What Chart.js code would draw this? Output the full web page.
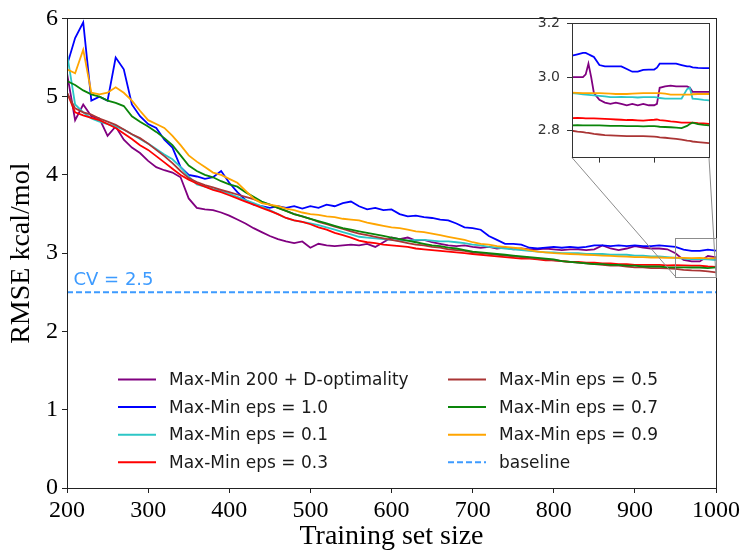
<!DOCTYPE html>
<html>
<head>
<meta charset="utf-8">
<script src="https://cdn.jsdelivr.net/npm/chart.js@4.4.1/dist/chart.umd.min.js"></script>
<style>
  html, body { margin: 0; padding: 0; background: #fff; }
  #wrap { position: relative; width: 740px; height: 552px; overflow: hidden; }
  #main { position: absolute; left: 0; top: 0; }
  #inset { position: absolute; left: 515px; top: 8px; }
</style>
</head>
<body>
<div id="wrap">
  <canvas id="main" width="740" height="552"></canvas>
  <canvas id="inset" width="200" height="165"></canvas>
</div>
<script>
"use strict";

// training set sizes
const xs = [
  200, 210, 220, 230, 240, 250, 260, 270, 280, 290,
  300, 310, 320, 330, 340, 350, 360, 370, 380, 390,
  400, 410, 420, 430, 440, 450, 460, 470, 480, 490,
  500, 510, 520, 530, 540, 550, 560, 570, 580, 590,
  600, 610, 620, 630, 640, 650, 660, 670, 680, 690,
  700, 710, 720, 730, 740, 750, 760, 770, 780, 790,
  800, 810, 820, 830, 840, 850, 860, 870, 880, 890,
  900, 910, 920, 930, 940, 950, 960, 970, 980, 990,
  1000
];

// RMSE (kcal/mol) per selection strategy
const dOpt = [
  5.30, 4.70, 4.90, 4.75, 4.72, 4.50, 4.62, 4.45, 4.35, 4.28,
  4.18, 4.10, 4.06, 4.03, 3.97, 3.70, 3.58, 3.56, 3.55, 3.52,
  3.48, 3.43, 3.38, 3.32, 3.27, 3.22, 3.18, 3.15, 3.13, 3.15,
  3.07, 3.12, 3.10, 3.09, 3.10, 3.11, 3.10, 3.12, 3.08, 3.14,
  3.20, 3.18, 3.20, 3.16, 3.17, 3.14, 3.12, 3.10, 3.09, 3.10,
  3.08, 3.07, 3.08, 3.06, 3.07, 3.05, 3.06, 3.05, 3.05, 3.06,
  3.05, 3.04, 3.05, 3.05, 3.04, 3.05, 3.10, 3.06, 3.04, 3.06,
  3.09, 3.07, 3.06, 3.06, 3.05, 3.00, 2.915, 2.895, 2.895, 2.965,
  2.945
];
const eps10 = [
  5.40, 5.75, 5.95, 4.95, 5.00, 4.95, 5.50, 5.35, 4.90, 4.75,
  4.65, 4.60, 4.45, 4.35, 4.10, 4.00, 3.98, 3.95, 3.97, 4.05,
  3.90, 3.78, 3.68, 3.62, 3.60, 3.58, 3.60, 3.58, 3.60, 3.57,
  3.60, 3.58, 3.62, 3.60, 3.64, 3.66, 3.60, 3.56, 3.58, 3.55,
  3.56, 3.50, 3.47, 3.48, 3.46, 3.45, 3.43, 3.42, 3.38, 3.33,
  3.32, 3.30, 3.22, 3.17, 3.12, 3.12, 3.11, 3.07, 3.06, 3.07,
  3.08, 3.07, 3.08, 3.07, 3.08, 3.10, 3.10, 3.09, 3.10, 3.09,
  3.10, 3.09, 3.09, 3.10, 3.09, 3.08, 3.045, 3.03, 3.03, 3.045,
  3.033
];
const eps01 = [
  5.55, 4.90, 4.80, 4.72, 4.68, 4.65, 4.62, 4.58, 4.52, 4.46,
  4.40, 4.33, 4.26, 4.20, 4.10, 3.98, 3.88, 3.85, 3.82, 3.80,
  3.76, 3.72, 3.68, 3.64, 3.60, 3.55, 3.50, 3.45, 3.42, 3.40,
  3.38, 3.36, 3.33, 3.30, 3.27, 3.24, 3.21, 3.20, 3.19, 3.18,
  3.17, 3.16, 3.16, 3.17, 3.17, 3.16, 3.15, 3.15, 3.14, 3.13,
  3.11, 3.10, 3.08, 3.07, 3.06, 3.05, 3.04, 3.03, 3.02, 3.01,
  3.01, 3.00, 3.00, 3.00, 2.99, 2.99, 2.99, 2.98, 2.98, 2.98,
  2.97, 2.97, 2.96, 2.96, 2.95, 2.94, 2.93, 2.925, 2.925, 2.92,
  2.913
];
const eps03 = [
  5.05, 4.80, 4.76, 4.73, 4.70, 4.65, 4.60, 4.53, 4.46, 4.38,
  4.32, 4.24, 4.16, 4.08, 4.00, 3.94, 3.89, 3.85, 3.81, 3.78,
  3.74, 3.70, 3.66, 3.62, 3.58, 3.54, 3.50, 3.45, 3.42, 3.40,
  3.37, 3.33, 3.30, 3.26, 3.23, 3.20, 3.16, 3.14, 3.13, 3.11,
  3.10, 3.09, 3.08, 3.06, 3.05, 3.04, 3.03, 3.02, 3.01, 3.00,
  2.99, 2.98, 2.97, 2.96, 2.95, 2.94, 2.93, 2.93, 2.92, 2.91,
  2.91, 2.90, 2.89, 2.89, 2.88, 2.88, 2.87, 2.87, 2.86, 2.86,
  2.85, 2.85, 2.85, 2.85, 2.845, 2.847, 2.844, 2.84, 2.84, 2.83,
  2.826
];
const eps05 = [
  5.05, 4.85, 4.80, 4.77, 4.72, 4.68, 4.64, 4.58, 4.52, 4.47,
  4.40, 4.32, 4.24, 4.15, 4.05, 3.96, 3.91, 3.87, 3.84, 3.81,
  3.78, 3.75, 3.72, 3.69, 3.65, 3.62, 3.58, 3.54, 3.50, 3.47,
  3.44, 3.40, 3.37, 3.34, 3.31, 3.28, 3.25, 3.23, 3.21, 3.19,
  3.17, 3.15, 3.13, 3.11, 3.10, 3.08, 3.07, 3.05, 3.04, 3.03,
  3.01, 3.00, 2.99, 2.98, 2.97, 2.96, 2.95, 2.94, 2.93, 2.92,
  2.91, 2.90, 2.89, 2.88, 2.87, 2.86, 2.85, 2.84, 2.84, 2.83,
  2.82, 2.82, 2.81, 2.81, 2.805, 2.80, 2.786, 2.78, 2.778, 2.768,
  2.754
];
const eps07 = [
  5.20, 5.15, 5.08, 5.03, 5.00, 4.95, 4.92, 4.88, 4.75, 4.68,
  4.62, 4.55, 4.47, 4.38, 4.25, 4.12, 4.05, 4.00, 3.97, 3.92,
  3.88, 3.85, 3.78, 3.72, 3.66, 3.62, 3.58, 3.54, 3.50, 3.47,
  3.44, 3.41, 3.38, 3.35, 3.32, 3.30, 3.28, 3.26, 3.24, 3.22,
  3.20, 3.18, 3.16, 3.14, 3.12, 3.10, 3.09, 3.07, 3.06, 3.04,
  3.02, 3.01, 3.00, 2.99, 2.98, 2.97, 2.96, 2.95, 2.94, 2.93,
  2.92, 2.90, 2.89, 2.88, 2.87, 2.86, 2.86, 2.85, 2.85, 2.84,
  2.84, 2.83, 2.83, 2.83, 2.82, 2.82, 2.82, 2.817, 2.817, 2.81,
  2.82
];
const eps09 = [
  5.35, 5.30, 5.60, 5.05, 5.03, 5.05, 5.12, 5.05, 4.95, 4.82,
  4.70, 4.65, 4.60, 4.50, 4.38, 4.25, 4.17, 4.10, 4.03, 4.00,
  3.95, 3.90, 3.80, 3.70, 3.64, 3.62, 3.60, 3.57, 3.55, 3.52,
  3.50, 3.49, 3.47, 3.46, 3.44, 3.43, 3.42, 3.39, 3.37, 3.35,
  3.33, 3.32, 3.30, 3.28, 3.27, 3.25, 3.23, 3.21, 3.19, 3.17,
  3.14, 3.12, 3.11, 3.09, 3.08, 3.07, 3.06, 3.04, 3.02, 3.01,
  3.00, 2.995, 2.99, 2.985, 2.98, 2.975, 2.97, 2.965, 2.96, 2.955,
  2.95, 2.95, 2.945, 2.945, 2.94, 2.942, 2.94, 2.937, 2.94, 2.935,
  2.937
];
const baselineX = [200, 1000];
const baselineY = [2.5, 2.5];
const CV = 2.5;

// zoomed window at finer resolution
const insetX = [
  950, 952, 954, 955, 956, 957, 958, 960, 962, 964,
  966, 968, 970, 972, 974, 976, 978, 980, 981, 982,
  984, 986, 988, 990, 992, 993, 994, 996, 998, 1000
];
const insetDOpt = [
  3.00, 3.00, 3.00, 3.01, 3.05, 3.00, 2.94, 2.915, 2.905, 2.90,
  2.905, 2.90, 2.895, 2.90, 2.895, 2.90, 2.895, 2.895, 2.90, 2.96,
  2.965, 2.968, 2.965, 2.965, 2.965, 2.96, 2.945, 2.945, 2.945, 2.945
];
const insetEps10 = [
  3.08, 3.085, 3.09, 3.09, 3.085, 3.08, 3.075, 3.045, 3.04, 3.04,
  3.04, 3.04, 3.03, 3.02, 3.02, 3.027, 3.028, 3.028, 3.035, 3.05,
  3.05, 3.05, 3.05, 3.045, 3.04, 3.04, 3.036, 3.034, 3.033, 3.033
];
const insetEps01 = [
  2.94, 2.938, 2.936, 2.935, 2.934, 2.933, 2.932, 2.93, 2.928, 2.925,
  2.925, 2.926, 2.925, 2.925, 2.924, 2.925, 2.925, 2.925, 2.924, 2.922,
  2.92, 2.92, 2.92, 2.92, 2.955, 2.96, 2.92, 2.918, 2.915, 2.913
];
const insetEps03 = [
  2.847, 2.848, 2.847, 2.846, 2.846, 2.846, 2.846, 2.845, 2.844, 2.843,
  2.842, 2.841, 2.84, 2.84, 2.839, 2.838, 2.84, 2.841, 2.842, 2.84,
  2.838, 2.835, 2.833, 2.83, 2.83, 2.83, 2.83, 2.828, 2.827, 2.826
];
const insetEps05 = [
  2.80, 2.797, 2.795, 2.793, 2.792, 2.79, 2.788, 2.786, 2.784, 2.783,
  2.782, 2.781, 2.78, 2.78, 2.78, 2.78, 2.779, 2.778, 2.777, 2.775,
  2.774, 2.772, 2.77, 2.767, 2.763, 2.762, 2.76, 2.758, 2.756, 2.754
];
const insetEps07 = [
  2.82, 2.821, 2.82, 2.82, 2.82, 2.82, 2.82, 2.82, 2.819, 2.818,
  2.818, 2.818, 2.817, 2.817, 2.817, 2.816, 2.817, 2.817, 2.816, 2.815,
  2.814, 2.813, 2.812, 2.81, 2.818, 2.825, 2.83, 2.825, 2.822, 2.82
];
const insetEps09 = [
  2.942, 2.941, 2.94, 2.94, 2.94, 2.94, 2.94, 2.94, 2.939, 2.938,
  2.937, 2.937, 2.937, 2.938, 2.939, 2.94, 2.94, 2.94, 2.94, 2.94,
  2.938, 2.935, 2.935, 2.935, 2.935, 2.935, 2.936, 2.937, 2.937, 2.937
];
const insetXRange = [950, 1000];
const insetYRange = [2.7, 3.2];
const insetYTicks = [2.8, 3.0, 3.2];
const insetXTicks = [960, 980];

const labels = [
  "Max-Min 200 + D-optimality",
  "Max-Min eps = 1.0",
  "Max-Min eps = 0.1",
  "Max-Min eps = 0.3",
  "Max-Min eps = 0.5",
  "Max-Min eps = 0.7",
  "Max-Min eps = 0.9",
];
const colors = ["#800080", "#0000ff", "#2cc6c6", "#ff0000", "#aa3535", "#0a850a", "#ffa500"];
const baseColor = "#3d9bff";

const mainSeries = [dOpt, eps10, eps01, eps03, eps05, eps07, eps09];
const insetSeries = [insetDOpt, insetEps10, insetEps01, insetEps03, insetEps05, insetEps07, insetEps09];

const serif = "'Liberation Serif', 'Times New Roman', serif";
const sans = "'DejaVu Sans', sans-serif";

function toPoints(xv, yv) {
  return xv.map((x, i) => ({ x: x, y: yv[i] }));
}

function makeSets(xv, series) {
  let sets = series.map((s, i) => ({
    label: labels[i],
    data: toPoints(xv, s),
    borderColor: colors[i],
    backgroundColor: colors[i],
    borderWidth: 1.8,
    pointRadius: 0,
    tension: 0,
    fill: false,
    order: 20 - i, // later series on top, like matplotlib
  }));
  return sets;
}

function crisp(v) {
  return Math.round(v) + 0.5;
}

// ---------- inset ----------
const insetBox = {
  id: "insetBox",
  beforeDraw(chart) {
    const a = chart.chartArea;
    const ctx = chart.ctx;
    ctx.save();
    ctx.fillStyle = "#fff";
    ctx.fillRect(a.left, a.top, a.right - a.left, a.bottom - a.top);
    ctx.restore();
  },
  afterDraw(chart) {
    const a = chart.chartArea;
    const ctx = chart.ctx;
    ctx.save();
    ctx.strokeStyle = "#333";
    ctx.lineWidth = 1;
    ctx.strokeRect(crisp(a.left), crisp(a.top), Math.round(a.right - a.left), Math.round(a.bottom - a.top));
    ctx.restore();
  },
};

const insetEl = document.getElementById("inset");
const insetChart = new Chart(insetEl, {
  type: "line",
  data: { datasets: makeSets(insetX, insetSeries) },
  options: {
    responsive: false,
    animation: false,
    devicePixelRatio: 1,
    layout: { padding: { top: 13, right: 6, left: 0, bottom: 0 } },
    plugins: { legend: { display: false }, tooltip: { enabled: false } },
    scales: {
      x: {
        type: "linear",
        min: insetXRange[0],
        max: insetXRange[1],
        afterBuildTicks(scale) {
          scale.ticks = insetXTicks.map((v) => ({ value: v }));
        },
        afterFit(scale) {
          scale.height = 14;
        },
        ticks: { display: false },
        grid: { drawOnChartArea: false, drawTicks: true, tickLength: 5, color: "#333" },
        border: { display: true, color: "#333" },
      },
      y: {
        min: insetYRange[0],
        max: insetYRange[1],
        afterBuildTicks(scale) {
          scale.ticks = insetYTicks.map((v) => ({ value: v }));
        },
        afterFit(scale) {
          scale.width = 57;
        },
        ticks: {
          padding: 7,
          color: "#333",
          font: { family: sans, size: 14 },
          callback: (v) => Number(v).toFixed(1),
        },
        grid: { drawOnChartArea: false, drawTicks: true, tickLength: 5, color: "#333" },
        border: { display: true, color: "#333" },
      },
    },
  },
  plugins: [insetBox],
});

// ---------- main ----------
const decor = {
  id: "decor",
  afterDraw(chart) {
    const ctx = chart.ctx;
    const a = chart.chartArea;
    const sx = chart.scales.x;
    const sy = chart.scales.y;

    // frame
    ctx.save();
    ctx.strokeStyle = "#222";
    ctx.lineWidth = 1;
    ctx.strokeRect(crisp(a.left), crisp(a.top), Math.round(a.right - a.left), Math.round(a.bottom - a.top));

    // CV label
    ctx.fillStyle = baseColor;
    ctx.font = "18px " + sans;
    ctx.textAlign = "left";
    ctx.textBaseline = "alphabetic";
    ctx.fillText("CV = " + CV, sx.getPixelForValue(208), sy.getPixelForValue(2.59));

    // zoom rectangle + connectors to the inset
    const rx0 = sx.getPixelForValue(insetXRange[0]);
    const rx1 = sx.getPixelForValue(insetXRange[1]);
    const ry0 = sy.getPixelForValue(insetYRange[1]);
    const ry1 = sy.getPixelForValue(insetYRange[0]);
    ctx.strokeStyle = "#8c8c8c";
    ctx.lineWidth = 1;
    ctx.strokeRect(crisp(rx0), crisp(ry0), Math.round(rx1 - rx0), Math.round(ry1 - ry0));
    const ia = insetChart.chartArea;
    const ox = insetEl.offsetLeft;
    const oy = insetEl.offsetTop;
    ctx.beginPath();
    ctx.moveTo(ox + ia.left, oy + ia.bottom);
    ctx.lineTo(rx0, ry1);
    ctx.moveTo(ox + ia.right, oy + ia.bottom);
    ctx.lineTo(rx1, ry1);
    ctx.stroke();

    // legend, two columns filled top to bottom
    const sets = chart.data.datasets;
    ctx.font = "17px " + sans;
    ctx.textBaseline = "middle";
    for (let i = 0; i < sets.length; i++) {
      const col = Math.floor(i / 4);
      const row = i % 4;
      const lx = [118, 448][col];
      const ly = 379.5 + row * 27.6;
      ctx.beginPath();
      ctx.strokeStyle = sets[i].borderColor;
      ctx.lineWidth = 2;
      ctx.setLineDash(sets[i].borderDash || []);
      ctx.moveTo(lx, ly);
      ctx.lineTo(lx + 38, ly);
      ctx.stroke();
      ctx.setLineDash([]);
      ctx.fillStyle = "#1a1a1a";
      ctx.fillText(sets[i].label, lx + 51, ly + 1);
    }
    ctx.restore();
  },
};

const mainSets = makeSets(xs, mainSeries);
mainSets.push({
  label: "baseline",
  data: toPoints(baselineX, baselineY),
  borderColor: baseColor,
  backgroundColor: baseColor,
  borderWidth: 2,
  borderDash: [6, 3],
  pointRadius: 0,
  fill: false,
  order: 1,
});

const mainChart = new Chart(document.getElementById("main"), {
  type: "line",
  data: { datasets: mainSets },
  options: {
    responsive: false,
    animation: false,
    devicePixelRatio: 1,
    layout: { padding: { top: 14, right: 24, left: 0, bottom: 0 } },
    plugins: { legend: { display: false }, tooltip: { enabled: false } },
    scales: {
      x: {
        type: "linear",
        min: 200,
        max: 1000,
        afterFit(scale) {
          scale.height = 64;
          // let the last label hang past the frame, as in the original
          scale.paddingLeft = 0;
          scale.paddingRight = 0;
        },
        ticks: {
          stepSize: 100,
          padding: 3,
          color: "#000",
          maxRotation: 0,
          font: { family: serif, size: 24 },
          callback: (v) => String(v),
        },
        grid: { drawOnChartArea: false, drawTicks: true, tickLength: 5, color: "#222" },
        border: { display: true, color: "#222" },
        title: {
          display: true,
          text: "Training set size",
          color: "#000",
          font: { family: serif, size: 28, lineHeight: 1 },
          padding: { top: 0, bottom: 1 },
        },
      },
      y: {
        min: 0,
        max: 6,
        afterFit(scale) {
          scale.width = 67;
        },
        ticks: {
          stepSize: 1,
          padding: 4,
          color: "#000",
          font: { family: serif, size: 24 },
        },
        grid: { drawOnChartArea: false, drawTicks: true, tickLength: 5, color: "#222" },
        border: { display: true, color: "#222" },
        title: {
          display: true,
          text: "RMSE kcal/mol",
          color: "#000",
          font: { family: serif, size: 28, lineHeight: 1 },
          padding: { top: 8, bottom: 0 },
        },
      },
    },
  },
  plugins: [decor],
});
</script>
</body>
</html>
